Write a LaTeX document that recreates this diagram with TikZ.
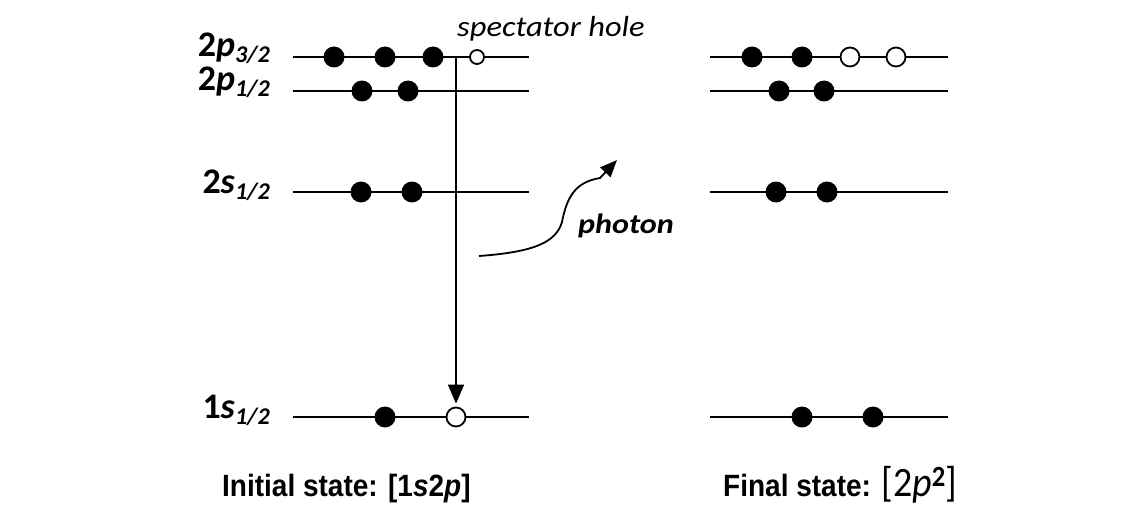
\documentclass[tikz,border=0pt]{standalone}
\usepackage{fontspec}
\usepackage{graphicx}
\setmainfont{Carlito}
\newfontfamily\arialfont{Liberation Sans}
\usetikzlibrary{arrows.meta}
\newcommand\levlab[3]{{\bfseries #1\textit{#2}\raisebox{-6pt}{\fontsize{24}{24}\selectfont\bfseries\itshape #3}}}
\begin{document}
\begin{tikzpicture}[x=1pt,y=-1pt,
  level/.style={line width=1.4pt},
  el/.style={circle,fill=black,inner sep=0pt,minimum size=21pt},
  hole/.style={circle,draw=black,fill=white,line width=1.8pt,inner sep=0pt,minimum size=19pt},
  spec/.style={hole,minimum size=14pt},
  lab/.style={anchor=base east,inner sep=0pt,font=\fontsize{36}{36}\selectfont},
  captxt/.style={anchor=base west,inner sep=0pt,font=\fontsize{28}{28}\selectfont\arialfont\bfseries}]
\useasboundingbox (0,0) rectangle (1145,508);
% levels
\foreach \n/\y in {a/57,b/91,c/192,d/417}{
  \coordinate (L\n1) at (293,\y); \coordinate (L\n2) at (529,\y);
  \draw[level] (L\n1) -- (L\n2);
  \coordinate (R\n1) at (710,\y); \coordinate (R\n2) at (948,\y);
  \draw[level] (R\n1) -- (R\n2);
}
% labels
\node[lab] (la) at (270,57) {\levlab{2}{p}{3/2}};
\node[lab] (lb) at (270,91) {\levlab{2}{p}{1/2}};
\node[lab] (lc) at (270,193) {\levlab{2}{s}{1/2}};
\node[lab] (ld) at (270,418) {\levlab{1}{s}{1/2}};
% vertical transition
\coordinate (vtop) at (456,57);
% left electrons
\node[el] (a1) at (334,57) {};
\node[el] (a2) at (385,57) {};
\node[el] (a3) at (433,57) {};
\node[spec] (a4) at (477,57) {};
\node[el] (b1) at (362,91) {};
\node[el] (b2) at (408,91) {};
\node[el] (c1) at (361,192) {};
\node[el] (c2) at (412,192) {};
\node[el] (d1) at (385,417) {};
\node[hole] (d2) at (456,417) {};
\draw[line width=1.8pt,-{Triangle[length=19pt,width=16pt]},shorten >=3pt] (vtop) -- (d2.north);
% right electrons
\node[el] (ra1) at (752,57) {};
\node[el] (ra2) at (802,57) {};
\node[hole] (ra3) at (850,57) {};
\node[hole] (ra4) at (896,57) {};
\node[el] (rb1) at (779,91) {};
\node[el] (rb2) at (824,91) {};
\node[el] (rc1) at (776,192) {};
\node[el] (rc2) at (827,192) {};
\node[el] (rd1) at (802,417) {};
\node[el] (rd2) at (873,417) {};
% spectator hole text
\node[anchor=base west,inner sep=0pt] (spectxt) at (457,37) {\scalebox{1.12}[1]{\fontsize{29}{29}\selectfont\itshape spectator hole}};
% photon
\coordinate (p0) at (479,256);
\coordinate (p1) at (562,222);
\coordinate (p2) at (600,178);
\coordinate (p3) at (617,160);
\draw[line width=1.8pt,-{Triangle[length=17pt,width=14pt]}] (p0) .. controls (535,252) and (556,242) .. (p1) .. controls (567,196) and (576,182) .. (p2) -- (p3);
\node[anchor=base west,inner sep=0pt] (phot) at (578,233) {\scalebox{1.15}[1]{\fontsize{28}{28}\selectfont\bfseries\itshape photon}};
% captions
\node[captxt] (init) at (222,496) {\scalebox{1}[1.1]{Initial state: [1\textit{s}2\textit{p}]}};
\node[captxt] (fin) at (723,496) {\scalebox{1}[1.1]{Final state: {\rmfamily\mdseries\fontsize{38}{38}\selectfont[2\textit{p}\textsuperscript{\bfseries 2}]}}};
\end{tikzpicture}
\end{document}
